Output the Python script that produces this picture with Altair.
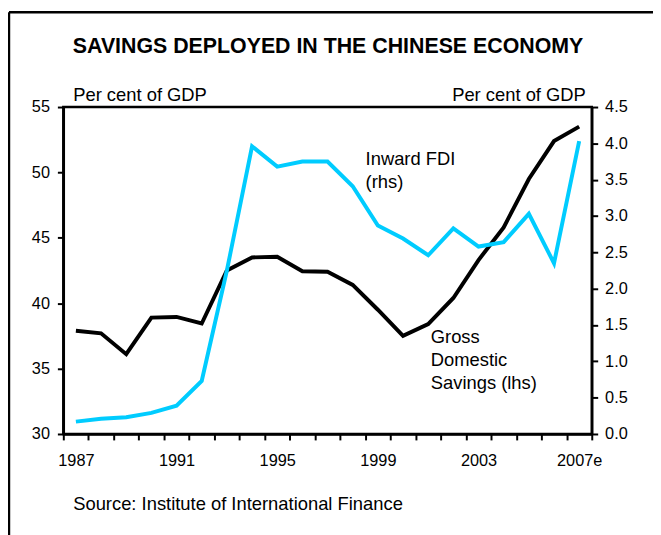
import altair as alt
import pandas as pd

years = list(range(1987, 2008))
savings = [37.9, 37.7, 36.1, 38.9, 38.95, 38.45, 42.5, 43.5, 43.55, 42.45, 42.4,
           41.4, 39.5, 37.5, 38.4, 40.4, 43.3, 45.8, 49.5, 52.4, 53.5]
fdi = [0.17, 0.21, 0.23, 0.29, 0.39, 0.73, 2.25, 3.96, 3.68, 3.75, 3.75,
       3.41, 2.87, 2.69, 2.46, 2.83, 2.58, 2.64, 3.03, 2.35, 4.03]
left_ticks = [30, 35, 40, 45, 50, 55]
right_ticks = [0.0, 0.5, 1.0, 1.5, 2.0, 2.5, 3.0, 3.5, 4.0, 4.5]
x_ticks = [1986.5 + i for i in range(22)]

title_text = "SAVINGS DEPLOYED IN THE CHINESE ECONOMY"
unit_text = "Per cent of GDP"
source_text = "Source: Institute of International Finance"
fdi_label = ["Inward FDI", "(rhs)"]
sav_label = ["Gross", "Domestic", "Savings (lhs)"]

FONT = "Liberation Sans"
W, H = 535, 331

df = pd.DataFrame({"year": years, "savings": savings, "fdi": fdi})

x_enc = alt.X(
    "year:Q",
    scale=alt.Scale(domain=[1986.5, 2007.5], nice=False, zero=False),
    axis=alt.Axis(
        values=x_ticks,
        labelExpr="datum.value == 2006.5 ? '2007e' : ((datum.value - 1986.5) % 4 == 0 ? format(datum.value + 0.5, 'd') : '')",
        labelOffset=W / 21 / 2,
        labelFlush=False,
        labelOverlap=False,
        labelBound=False,
        grid=False,
        title=None,
        tickSize=6,
        labelPadding=13,
    ),
)

sav_line = alt.Chart(df).mark_line(color="#000000", strokeWidth=4).encode(
    x=x_enc,
    y=alt.Y(
        "savings:Q",
        scale=alt.Scale(domain=[30, 55], nice=False, zero=False),
        axis=alt.Axis(values=left_ticks, orient="left", grid=False, title=None,
                      tickSize=6, labelPadding=8),
    ),
)

fdi_line = alt.Chart(df).mark_line(color="#00CCFF", strokeWidth=4).encode(
    x=x_enc,
    y=alt.Y(
        "fdi:Q",
        scale=alt.Scale(domain=[0, 4.5], nice=False, zero=False),
        axis=alt.Axis(values=right_ticks, format=".1f", orient="right", grid=False,
                      title=None, tickSize=6, labelPadding=7),
    ),
)

one = alt.Data(values=[{}])


def txt(text, x, y, align="left", size=18.6, weight="normal", line_height=23):
    return alt.Chart(one).mark_text(
        text=text, align=align, baseline="alphabetic", font=FONT, fontSize=size,
        fontWeight=weight, color="#000000", lineHeight=line_height,
    ).encode(x=alt.value(x), y=alt.value(y))


title = txt(title_text, 268, -55, align="center", size=21.6, weight="bold")
unit_l = txt(unit_text, 10, -6)
unit_r = txt(unit_text, 529, -6, align="right")
source = txt(source_text, 10, 408)
fdi_t = txt(fdi_label, 306, 59)
sav_t = txt(sav_label, 372, 239)

frame_left = alt.Chart(one).mark_rule(color="#000000", strokeWidth=2.5).encode(
    x=alt.value(-55), y=alt.value(-96), y2=alt.value(440)
)
frame_top = alt.Chart(one).mark_rule(color="#000000", strokeWidth=2.5).encode(
    x=alt.value(-55), x2=alt.value(600), y=alt.value(-96)
)

chart = (
    alt.layer(sav_line, fdi_line, title, unit_l, unit_r, source, fdi_t, sav_t,
              frame_left, frame_top)
    .resolve_scale(y="independent")
    .properties(
        width=W,
        height=H,
        autosize=alt.AutoSizeParams(type="none"),
        padding={"left": 56, "top": 97, "right": 62, "bottom": 99},
        background="white",
    )
    .configure_view(stroke="#000000", strokeWidth=2.5)
    .configure_axis(
        domainColor="#000000",
        domainWidth=2.5,
        tickColor="#000000",
        tickWidth=2,
        labelColor="#000000",
        labelFont=FONT,
        labelFontSize=16.5,
    )
)

chart.save("out.html", embed_options={"renderer": "svg", "actions": False})
